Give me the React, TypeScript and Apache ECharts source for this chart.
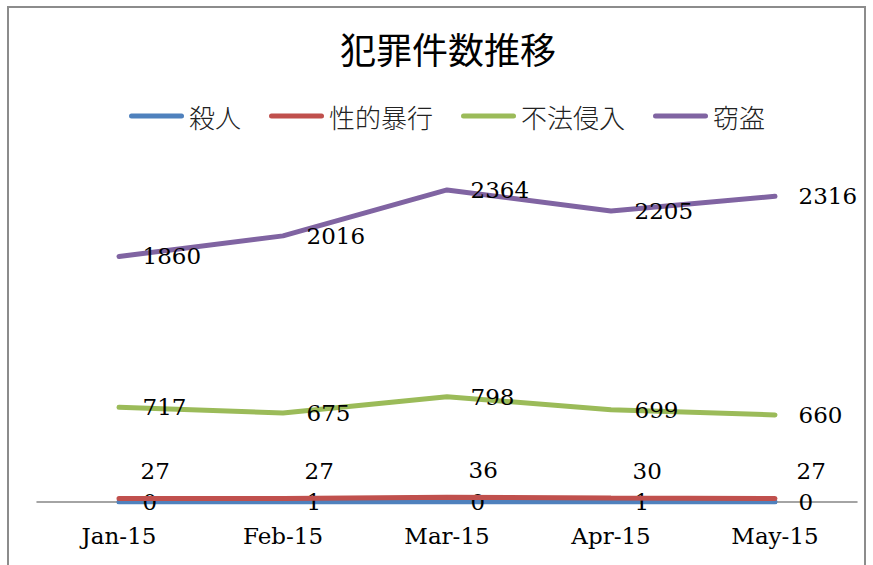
import React, { useEffect, useRef } from "react";
import * as echarts from "echarts";

const categories = ["Jan-15", "Feb-15", "Mar-15", "Apr-15", "May-15"];
const murder = [0, 1, 0, 1, 0];
const sexualAssault = [27, 27, 36, 30, 27];
const trespass = [717, 675, 798, 699, 660];
const theft = [1860, 2016, 2364, 2205, 2316];
const seriesNames = ["殺人", "性的暴行", "不法侵入", "窃盗"];
const colors = ["#4F81BD", "#C0504D", "#9BBB59", "#8064A2"];
const titleText = "犯罪件数推移";

const NUM_FONT = "'DejaVu Serif', serif";
const CJK_FONT = "'Noto Sans CJK JP', sans-serif";

export default function App() {
  const ref = useRef<HTMLDivElement>(null);
  useEffect(() => {
    document.body.style.margin = "0";
    const chart = echarts.init(ref.current!, null, { renderer: "svg" });
    const values = [murder, sexualAssault, trespass, theft];
    const legendIcon =
      "path://M2.5,0 H52.5 A2.5,2.5 0 0 1 52.5,5 H2.5 A2.5,2.5 0 0 1 2.5,0 Z";
    chart.setOption({
      animation: false,
      color: colors,
      title: {
        text: titleText,
        left: 443,
        textAlign: "center",
        top: 25,
        textStyle: {
          fontFamily: CJK_FONT,
          fontSize: 36,
          fontWeight: "normal",
          color: "#000",
        },
      },
      legend: {
        left: 124,
        top: 98,
        itemWidth: 55,
        itemHeight: 5,
        itemGap: 28,
        icon: legendIcon,
        data: seriesNames,
        textStyle: { fontFamily: CJK_FONT, fontSize: 26, color: "#222", fontWeight: 300 },
      },
      grid: { left: 37, right: 16, top: 172, bottom: 63 },
      xAxis: {
        type: "category",
        data: categories,
        boundaryGap: true,
        axisLine: { lineStyle: { color: "#868686", width: 1.5 } },
        axisTick: { show: false },
        axisLabel: {
          fontFamily: NUM_FONT,
          fontSize: 23,
          color: "#000",
          margin: 22,
        },
      },
      yAxis: {
        type: "value",
        min: 0,
        max: 2500,
        show: false,
        splitLine: { show: false },
      },
      graphic: [
        {
          type: "rect",
          silent: true,
          z: -10,
          shape: { x: 8, y: 7, width: 857, height: 620 },
          style: { fill: "none", stroke: "#8c8c8c", lineWidth: 2 },
        },
      ],
      series: seriesNames.map((name, i) => ({
        name,
        type: "line",
        data: values[i],
        symbol: "circle",
        symbolSize: 1,
        lineStyle: { width: 5, color: colors[i], cap: "round" },
        itemStyle: { color: colors[i] },
        z: 2 + i,
        label: {
          show: true,
          position: "right",
          distance: i === 1 ? 21 : 23,
          offset: i === 1 ? [0, -27] : [0, 0],
          fontFamily: NUM_FONT,
          fontSize: 23,
          color: "#000",
        },
      })),
    });
    return () => chart.dispose();
  }, []);
  return <div ref={ref} style={{ width: 873, height: 565 }} />;
}
